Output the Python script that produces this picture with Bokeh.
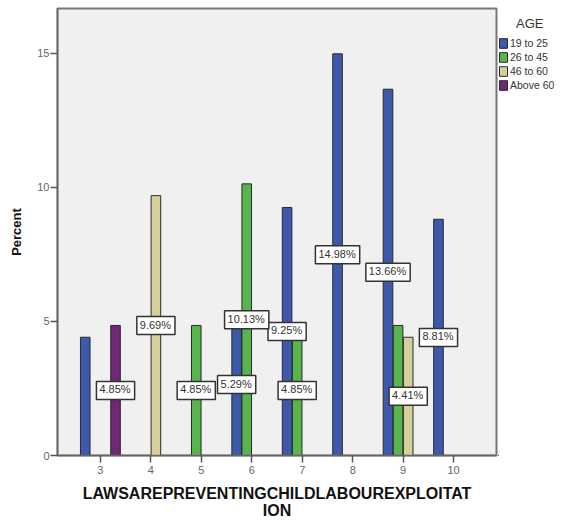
from bokeh.plotting import figure
from bokeh.layouts import row
from bokeh.models import ColumnDataSource, Legend, LegendItem, FixedTicker, Range1d
from bokeh.transform import dodge
from bokeh.core.properties import value
from bokeh.embed import file_html
from bokeh.resources import INLINE

categories = [3, 4, 5, 6, 7, 8, 9, 10]
age_groups = ["19 to 25", "26 to 45", "46 to 60", "Above 60"]
pct_19_25 = [4.41, 0, 0, 5.29, 9.25, 14.98, 13.66, 8.81]
pct_26_45 = [0, 0, 4.85, 10.13, 4.85, 0, 4.85, 0]
pct_46_60 = [0, 9.69, 0, 0, 0, 0, 4.41, 0]
pct_above_60 = [4.85, 0, 0, 0, 0, 0, 0, 0]
label_19_25 = [False, False, False, True, True, True, True, True]
label_26_45 = [False, False, True, True, True, False, False, False]
label_46_60 = [False, True, False, False, False, False, True, False]
label_above_60 = [True, False, False, False, False, False, False, False]
y_ticks = [0, 5, 10, 15]

series = [pct_19_25, pct_26_45, pct_46_60, pct_above_60]
labels = [label_19_25, label_26_45, label_46_60, label_above_60]
colors = ["#3E58AC", "#58B54E", "#D5CF9C", "#6E2874"]
offsets = [-0.3, -0.1, 0.1, 0.3]

FONT = "Liberation Sans"

p = figure(width=498, height=522, output_backend="svg", toolbar_location=None,
           x_range=Range1d(2.15, 10.85), y_range=Range1d(0, 16.67),
           min_border_left=57, min_border_right=2, min_border_top=8, min_border_bottom=64)
p.background_fill_color = "#F0F0F0"
p.border_fill_color = "white"
p.outline_line_color = "#777777"
p.outline_line_width = 2
p.xgrid.visible = False
p.ygrid.visible = False

for vals, col, off in zip(series, colors, offsets):
    xs = [c for c, v in zip(categories, vals) if v > 0]
    ys = [v for v in vals if v > 0]
    src = ColumnDataSource(dict(cat=xs, val=ys))
    p.vbar(x=dodge("cat", off), top="val", width=0.19, source=src,
           fill_color=col, line_color="#2A2A2A", line_width=1)

for vals, flags, off in zip(series, labels, offsets):
    lx = [c for c, v, f in zip(categories, vals, flags) if v > 0 and f]
    lv = [v for v, f in zip(vals, flags) if v > 0 and f]
    lsrc = ColumnDataSource(dict(cat=lx, half=[v / 2 for v in lv],
                                 txt=["%.2f%%" % v for v in lv]))
    p.text(x=dodge("cat", off), y="half", text="txt", source=lsrc,
           text_align="center", text_baseline="middle",
           text_font=value(FONT), text_font_size="11px", text_color="#333333",
           background_fill_color="white", border_line_color="#333333",
           border_line_width=1.5, padding=[3, 4, 2, 4])

p.xaxis.ticker = FixedTicker(ticks=categories)
p.yaxis.ticker = FixedTicker(ticks=y_ticks)
for ax in (p.xaxis[0], p.yaxis[0]):
    ax.axis_line_color = "#666666"
    ax.axis_line_width = 1.5
    ax.major_tick_line_color = "#555555"
    ax.major_tick_line_width = 1.5
    ax.major_tick_in = 0
    ax.major_tick_out = 7
    ax.minor_tick_line_color = None
    ax.major_label_text_font = FONT
    ax.major_label_text_font_size = "11px"
    ax.major_label_text_color = "#666666"
    ax.axis_label_text_font = FONT
    ax.axis_label_text_font_style = "bold"
    ax.axis_label_text_color = "#111111"

p.xaxis.major_label_standoff = 3
p.yaxis.major_label_standoff = 1
p.xaxis.axis_label = "LAWSAREPREVENTINGCHILDLABOUREXPLOITAT\nION"
p.xaxis.axis_label_text_font_size = "16px"
p.xaxis.axis_label_text_line_height = 1.05
p.xaxis.axis_label_standoff = 8
p.yaxis.axis_label = "Percent"
p.yaxis.axis_label_text_font_size = "13px"
p.yaxis.axis_label_standoff = 10

# legend panel (swatch renderers sit outside the visible range)
q = figure(width=63, height=522, output_backend="svg", toolbar_location=None,
           x_range=Range1d(0, 1), y_range=Range1d(0, 1),
           min_border=0, min_border_left=0, min_border_right=0,
           min_border_top=0, min_border_bottom=0)
q.axis.visible = False
q.grid.visible = False
q.outline_line_color = None
q.background_fill_color = "white"
q.border_fill_color = "white"
items = []
for col, name in zip(colors, age_groups):
    r = q.vbar(x=[-5], top=[-5], bottom=[-6], width=0.1,
               fill_color=col, line_color="#2A2A2A", line_width=1)
    items.append(LegendItem(label=name, renderers=[r]))

legend = Legend(items=items, location=(0, 364), title="\u00a0\u00a0\u00a0\u00a0\u00a0AGE",
                title_text_font=FONT, title_text_font_size="13px",
                title_text_font_style="normal", title_text_color="#333333",
                title_standoff=6,
                label_text_font=FONT, label_text_font_size="10.5px",
                label_text_color="#333333",
                glyph_width=10, glyph_height=12, label_height=12,
                label_standoff=2, spacing=2, padding=0, margin=0,
                border_line_color=None, background_fill_alpha=0)
q.add_layout(legend, "center")

open("out.html", "w").write(file_html(row(p, q), INLINE))
